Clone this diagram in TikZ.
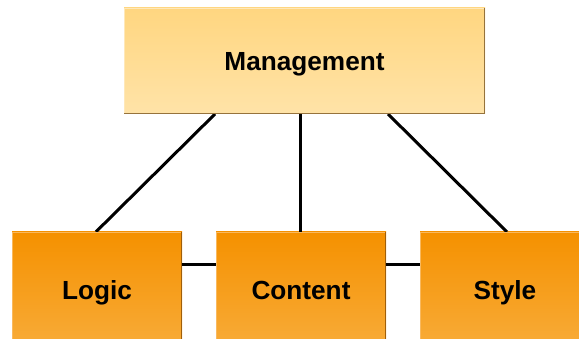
\documentclass[tikz,border=0pt]{standalone}
\usepackage{fontspec}
\setmainfont{Liberation Sans}
\definecolor{mtop}{RGB}{255,214,128}
\definecolor{mbot}{RGB}{255,227,168}
\definecolor{otop}{RGB}{245,145,0}
\definecolor{obot}{RGB}{248,172,58}
\definecolor{mlight}{RGB}{255,232,185}
\definecolor{olight}{RGB}{249,185,95}
\definecolor{mshadow}{RGB}{150,115,60}
\definecolor{oshadow}{RGB}{160,95,10}
\tikzset{
  boxbase/.style={inner sep=0pt, text height=0.72em, text depth=0pt,
    font=\fontsize{26.2}{31}\selectfont\bfseries},
  mgmtbox/.style={boxbase, top color=mtop, bottom color=mbot, draw=none,
    minimum width=361pt, minimum height=106pt},
  partbox/.style={boxbase, top color=otop, bottom color=obot, draw=none,
    minimum width=170pt, minimum height=118pt},
  link/.style={line width=3pt, black}
}
\begin{document}
\begin{tikzpicture}[x=1pt,y=1pt]
\useasboundingbox (0,0) rectangle (579,339);
% connectors (behind boxes)
\coordinate (mL) at (215,225);
\coordinate (mC) at (300.5,225);
\coordinate (mR) at (388,225);
\node[partbox] (logic) at (97,48) {};
\node[partbox] (content) at (301,48) {};
\node[partbox] (style) at (505,48) {};
\node[mgmtbox] (mgmt) at (304.5,278) {};
\draw[link] (mL) -- (logic.north -| 96,0);
\draw[link] (mC) -- (mC |- content.north);
\draw[link] (mR) -- (507,107);
\draw[link] ([yshift=26pt]logic.east) -- ([yshift=26pt]content.west);
\draw[link] ([yshift=26pt]content.east) -- ([yshift=26pt]style.west);
% boxes with edges
\foreach \n/\l/\s in {logic/olight/oshadow,content/olight/oshadow,style/olight/oshadow,mgmt/mlight/mshadow}{
  \fill[\l] (\n.north west) rectangle ([yshift=-1.5pt]\n.north east);
  \fill[\l] (\n.north west) rectangle ([xshift=1.2pt]\n.south west);
  \fill[\s] ([xshift=-1.5pt]\n.north east) rectangle (\n.south east);
  \fill[\s] (\n.south west) rectangle ([yshift=1.5pt]\n.south east);
}
\node[boxbase] (tm) at ([yshift=-6pt]mgmt.center) {Management};
\node[boxbase] (tl) at ([yshift=-5pt]logic.center) {Logic};
\node[boxbase] (tc) at ([yshift=-5pt]content.center) {Content};
\node[boxbase] (ts) at ([yshift=-5pt]style.center) {Style};
\end{tikzpicture}
\end{document}
